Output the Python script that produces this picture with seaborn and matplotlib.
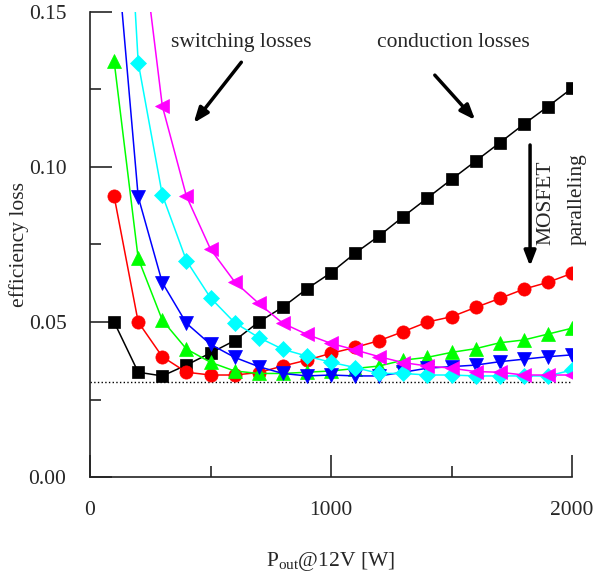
import matplotlib
matplotlib.use("Agg")
import matplotlib.pyplot as plt
import seaborn as sns
from matplotlib.ticker import MultipleLocator

# output power [W]
power = [100, 200, 300, 400, 500, 600, 700, 800, 900, 1000,
         1100, 1200, 1300, 1400, 1500, 1600, 1700, 1800, 1900, 2000]

# efficiency loss, one curve per number of paralleled MOSFETs
loss_black = [0.050, 0.0338, 0.0326, 0.0361, 0.0400, 0.0440, 0.0500, 0.0548, 0.0607, 0.0659,
              0.0722, 0.0778, 0.0840, 0.0900, 0.0960, 0.1019, 0.1078, 0.1138, 0.1195, 0.1254]
loss_red = [0.0906, 0.0500, 0.0388, 0.0338, 0.0329, 0.0329, 0.0337, 0.0358, 0.0377, 0.0399,
            0.0418, 0.0440, 0.0469, 0.0500, 0.0517, 0.0547, 0.0576, 0.0606, 0.0628, 0.0657]
loss_green = [0.1342, 0.0705, 0.0506, 0.0413, 0.0370, 0.0342, 0.0334, 0.0334, 0.0338, 0.0342,
              0.0350, 0.0358, 0.0377, 0.0386, 0.0402, 0.0414, 0.0433, 0.0442, 0.0461, 0.0480]
loss_blue = [0.180, 0.0904, 0.0627, 0.0496, 0.0428, 0.0386, 0.0356, 0.0334, 0.0326, 0.0329,
             0.0326, 0.0326, 0.0338, 0.0351, 0.0356, 0.0361, 0.0372, 0.0380, 0.0388, 0.0394]
loss_cyan = [0.270, 0.1337, 0.0910, 0.0698, 0.0578, 0.0498, 0.0450, 0.0412, 0.0390, 0.0370,
             0.0353, 0.0334, 0.0334, 0.0329, 0.0329, 0.0326, 0.0326, 0.0326, 0.0326, 0.0345]
loss_magenta = [0.300, 0.183, 0.1197, 0.0906, 0.0735, 0.0630, 0.0560, 0.0496, 0.0460, 0.0431,
                0.0410, 0.0388, 0.0369, 0.0358, 0.0351, 0.0340, 0.0338, 0.0329, 0.0329, 0.0329]

loss_floor = 0.0307

series = [
    (loss_black, 'black', 's', 8),
    (loss_red, 'red', 'o', 9.5),
    (loss_green, '#00ff00', '^', 10.5),
    (loss_blue, 'blue', 'v', 10.5),
    (loss_cyan, 'cyan', 'D', 8),
    (loss_magenta, 'magenta', '<', 10.5),
]

sns.set_style('ticks')
plt.rcParams['font.family'] = ['Liberation Serif', 'DejaVu Serif']
plt.rcParams['mathtext.fontset'] = 'custom'
plt.rcParams['mathtext.rm'] = 'Liberation Serif'

fig = plt.figure(figsize=(5.94, 5.79), dpi=100)
ax = fig.add_axes([90 / 594, 102 / 579, 482 / 594, 465 / 579])

ax.plot([0, 2000], [loss_floor, loss_floor], color='black', linestyle=':', linewidth=1)

for vals, col, mk, ms in series:
    sns.lineplot(x=power, y=vals, ax=ax, color=col, marker=mk, markersize=ms,
                 markeredgecolor=col, markerfacecolor=col, markeredgewidth=0.5,
                 linewidth=1.1)

ax.set_xlim(0, 2000)
ax.set_ylim(0, 0.15)
ax.xaxis.set_major_locator(MultipleLocator(1000))
ax.xaxis.set_minor_locator(MultipleLocator(500))
ax.yaxis.set_major_locator(MultipleLocator(0.05))
ax.yaxis.set_minor_locator(MultipleLocator(0.025))
ax.yaxis.set_major_formatter(plt.FormatStrFormatter('%.2f'))
ax.tick_params(which='major', direction='in', length=16, width=1.2, labelsize=15.5, pad=17)
ax.tick_params(which='minor', direction='in', length=8, width=1.2)
sns.despine(ax=ax)
for s in ['left', 'bottom']:
    ax.spines[s].set_linewidth(1.2)
    ax.spines[s].set_color('#222222')

ax.set_xlabel(r'P$_{\mathrm{out}}$@12V [W]', fontsize=15.5, labelpad=22)
ax.set_ylabel('efficiency loss', fontsize=15.5, labelpad=0)

ax.text(627, 0.1403, 'switching losses', fontsize=15.5, ha='center', va='center')
ax.text(1506, 0.1403, 'conduction losses', fontsize=15.5, ha='center', va='center')
ax.annotate('', xy=(423, 0.1135), xytext=(635, 0.1345),
            arrowprops=dict(arrowstyle='-|>,head_length=0.9,head_width=0.35', color='black', lw=2.5))
ax.annotate('', xy=(1606, 0.1145), xytext=(1423, 0.1303),
            arrowprops=dict(arrowstyle='-|>,head_length=0.9,head_width=0.35', color='black', lw=2.5))
ax.annotate('', xy=(1826, 0.0671), xytext=(1826, 0.108),
            arrowprops=dict(arrowstyle='-|>,head_length=0.9,head_width=0.35', color='black', lw=2.5))
ax.text(1890, 0.0748, 'MOSFET', fontsize=15.5, rotation=90, ha='center', va='bottom')
ax.text(2021, 0.0748, 'paralleling', fontsize=15.5, rotation=90, ha='center', va='bottom',
        clip_on=False)

fig.savefig('out.png', dpi=100)
